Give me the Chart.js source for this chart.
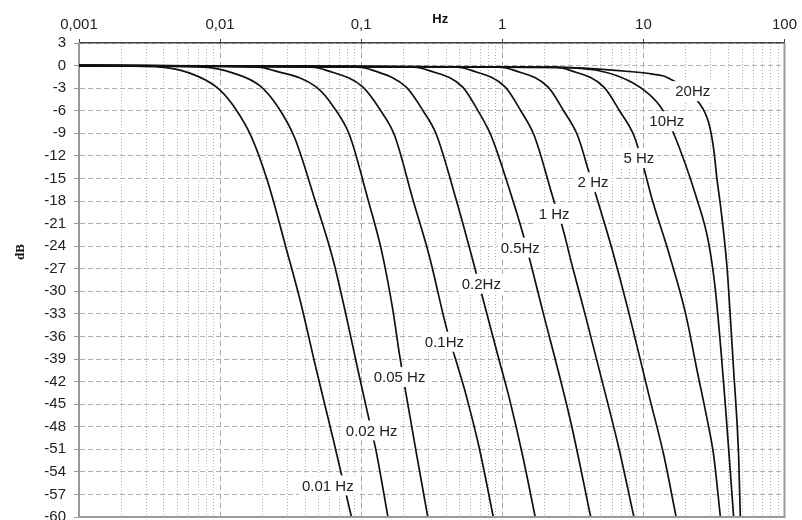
<!DOCTYPE html>
<html>
<head>
<meta charset="utf-8">
<title>Filter response</title>
<script src="https://cdn.jsdelivr.net/npm/chart.js@4.4.1/dist/chart.umd.min.js"></script>
<style>
  html, body { margin: 0; padding: 0; background: #fff; }
  canvas { display: block; }
</style>
</head>
<body>
<canvas id="chart" width="802" height="520"></canvas>
<script>
// ---------- Axis ticks ----------
const decadeTicks = [0.001, 0.01, 0.1, 1, 10, 100];
const decadeLabels = ["0,001", "0,01", "0,1", "1", "10", "100"];
const minorSteps = [2, 3, 4, 5, 6, 7, 8, 9];

// ---------- Curves (frequency in Hz, gain in dB) ----------
const curveNames = ["0.01 Hz", "0.02 Hz", "0.05 Hz", "0.1Hz", "0.2Hz", "0.5Hz",
                    "1 Hz", "2 Hz", "5 Hz", "10Hz", "20Hz"];

const f001 = [0.001, 0.0038, 0.0061, 0.0095, 0.0126, 0.0167, 0.0219, 0.0296, 0.0368, 0.0482, 0.0632, 0.0853];
const db001 = [0, -0.2, -1.0, -2.9, -5.5, -9.5, -15.6, -24.5, -31.1, -40.5, -49.6, -60];

const f002 = [0.001, 0.0076, 0.0124, 0.0192, 0.0257, 0.0336, 0.0469, 0.0632, 0.0786, 0.0949, 0.1148, 0.1281, 0.1547];
const db002 = [0, -0.2, -1.0, -2.7, -5.5, -9.5, -17.8, -25.8, -33.4, -40.5, -47.4, -51.4, -60];

const f005 = [0.001, 0.0186, 0.0238, 0.0482, 0.0639, 0.0829, 0.1117, 0.1390, 0.1677, 0.1871, 0.2029, 0.2455, 0.2965];
const db005 = [0, -0.2, -0.64, -2.87, -5.53, -9.3, -17.8, -24.5, -32.5, -38.5, -42.5, -51.4, -60];

const f01 = [0.001, 0.0447, 0.0568, 0.1029, 0.1373, 0.1725, 0.2324, 0.3048, 0.3999, 0.5538, 0.6880, 0.8638];
const db01 = [0, -0.2, -0.64, -2.87, -5.98, -9.3, -17.8, -25.4, -34.7, -43.8, -50.9, -60];

const f02 = [0.001, 0.0945, 0.1212, 0.2086, 0.2744, 0.3400, 0.4708, 0.6166, 0.7223, 0.9298, 1.121, 1.392, 1.711];
const db02 = [0, -0.2, -0.64, -2.87, -6.0, -9.1, -17.8, -25.8, -30.7, -38.5, -44.2, -51.8, -60];

const f05 = [0.001, 0.235, 0.300, 0.524, 0.671, 0.832, 1.183, 1.392, 1.927, 3.059, 4.236];
const db05 = [0, -0.2, -0.64, -2.87, -5.98, -9.3, -17.8, -22.2, -32.5, -47.4, -60];

const f1 = [0.001, 0.473, 0.604, 1.050, 1.351, 1.683, 2.369, 2.599, 3.140, 3.904, 5.406, 6.712, 8.570];
const db1 = [0, -0.2, -0.64, -2.87, -6.0, -9.3, -18.5, -20.7, -26.7, -33.4, -43.8, -50.9, -60];

const f2 = [0.001, 0.952, 1.216, 2.114, 2.720, 3.417, 4.119, 4.716, 6.018, 7.898, 10.94, 13.96, 17.06];
const db2 = [0, -0.2, -0.64, -2.87, -6.0, -9.3, -14.2, -17.8, -24.5, -32.9, -43.8, -51.8, -60];

const f5 = [0.001, 2.369, 3.025, 5.257, 6.768, 8.568, 10.0, 11.54, 15.14, 19.88, 24.00, 28.57, 31.49, 35.13];
const db5 = [0, -0.2, -0.64, -2.87, -6.0, -9.3, -13.4, -17.8, -24.9, -32.9, -40.5, -47.4, -51.8, -60];

const f10 = [0.001, 2.149, 4.847, 8.333, 10.94, 13.58, 15.98, 24.00, 29.03, 32.37, 35.70, 38.09, 41.32, 43.61];
const db10 = [0, -0.24, -0.69, -2.24, -3.8, -5.8, -8.5, -17.8, -23.6, -29.8, -38.5, -45.1, -54, -60];

const f20 = [0.001, 2.528, 4.847, 8.333, 11.54, 14.73, 24.67, 29.03, 31.49, 33.23, 35.13, 39.11, 41.32, 43.61, 47.30, 48.63];
const db20 = [0, -0.25, -0.47, -0.82, -1.13, -1.57, -4.9, -7.6, -11.1, -15.1, -18.5, -26.7, -33.4, -40.5, -51.8, -60];

const curveFreqs = [f001, f002, f005, f01, f02, f05, f1, f2, f5, f10, f20];
const curveDbs = [db001, db002, db005, db01, db02, db05, db1, db2, db5, db10, db20];

// where each curve carries its label (Hz, dB)
const labelFreq = [0.058, 0.1186, 0.1871, 0.389, 0.7106, 1.341, 2.331, 4.397, 9.294, 14.66, 22.38];
const labelDb = [-55.8, -48.5, -41.4, -36.7, -29.0, -24.2, -19.7, -15.5, -12.3, -7.4, -3.4];

// ---------- Helpers ----------
const SANS = "'Liberation Sans', Arial, sans-serif";
const minorTicks = [];
decadeTicks.slice(0, -1).forEach(d => minorSteps.forEach(m => minorTicks.push(d * m)));

const datasets = curveNames.map((name, i) => ({
  label: name,
  data: curveFreqs[i].map((f, j) => ({ x: f, y: curveDbs[i][j] })),
  borderColor: "#111",
  borderWidth: 1.7,
  pointRadius: 0,
  fill: false,
  cubicInterpolationMode: "monotone"
}));

// ---------- Overlay: curve labels, frame, axis titles ----------
const overlay = {
  id: "overlay",
  afterDatasetsDraw(chart) {
    const { ctx, chartArea: a, scales: { x, y } } = chart;
    ctx.save();

    // right and bottom frame
    ctx.strokeStyle = "#9a9a9a";
    ctx.lineWidth = 2;
    ctx.beginPath();
    ctx.moveTo(a.right, a.top);
    ctx.lineTo(a.right, a.bottom);
    ctx.lineTo(a.left, a.bottom);
    ctx.stroke();

    // curve labels in white boxes
    ctx.font = "15px " + SANS;
    ctx.textAlign = "center";
    ctx.textBaseline = "middle";
    curveNames.forEach((name, i) => {
      const px = x.getPixelForValue(labelFreq[i]);
      const py = y.getPixelForValue(labelDb[i]);
      const w = ctx.measureText(name).width + 6;
      ctx.fillStyle = "#fff";
      ctx.fillRect(px - w / 2, py - 10, w, 20);
      ctx.fillStyle = "#222";
      ctx.fillText(name, px, py + 1);
    });

    // axis titles
    ctx.fillStyle = "#111";
    ctx.font = "bold 13px " + SANS;
    ctx.fillText("Hz", a.left + a.width * 0.512, 19);

    ctx.translate(21, 252);
    ctx.rotate(-Math.PI / 2);
    ctx.font = "bold 13px 'Liberation Serif', 'Times New Roman', serif";
    ctx.fillText("dB", 0, 0);
    ctx.restore();
  }
};

// ---------- Chart ----------
new Chart(document.getElementById("chart"), {
  type: "line",
  data: { datasets },
  plugins: [overlay],
  options: {
    responsive: false,
    animation: false,
    layout: { padding: { left: 0, right: 16, top: 0, bottom: 3 } },
    plugins: { legend: { display: false }, tooltip: { enabled: false } },
    scales: {
      x: {
        type: "logarithmic",
        position: "top",
        min: 0.001,
        max: 100,
        afterBuildTicks: s => { s.ticks = decadeTicks.map(v => ({ value: v })); },
        afterFit: s => { s.height = 43; },
        ticks: {
          autoSkip: false,
          maxRotation: 0,
          padding: 5,
          color: "#222",
          font: { family: SANS, size: 15 },
          callback: v => decadeLabels[decadeTicks.indexOf(v)]
        },
        grid: { color: "#a8a8a8", lineWidth: 1, tickLength: 4, tickColor: "#444" },
        border: { display: true, color: "#444", width: 1.5, dash: [6, 3] }
      },
      xMinor: {
        type: "logarithmic",
        position: "top",
        min: 0.001,
        max: 100,
        afterBuildTicks: s => { s.ticks = minorTicks.map(v => ({ value: v })); },
        afterFit: s => { s.height = 0; },
        ticks: { display: false },
        grid: { color: "#b4b4b4", lineWidth: 1, drawTicks: false },
        border: { display: false, dash: [1, 2] }
      },
      y: {
        min: -60,
        max: 3,
        afterFit: s => { s.width = 79; s.paddingTop = 0; s.paddingBottom = 0; },
        ticks: {
          stepSize: 3,
          padding: 8,
          color: "#222",
          font: { family: SANS, size: 15 }
        },
        grid: { color: "#b0b0b0", lineWidth: 1, tickLength: 5, tickColor: "#999" },
        border: { display: true, color: "#9a9a9a", width: 2, dash: [5, 3] }
      }
    }
  }
});
</script>
</body>
</html>
